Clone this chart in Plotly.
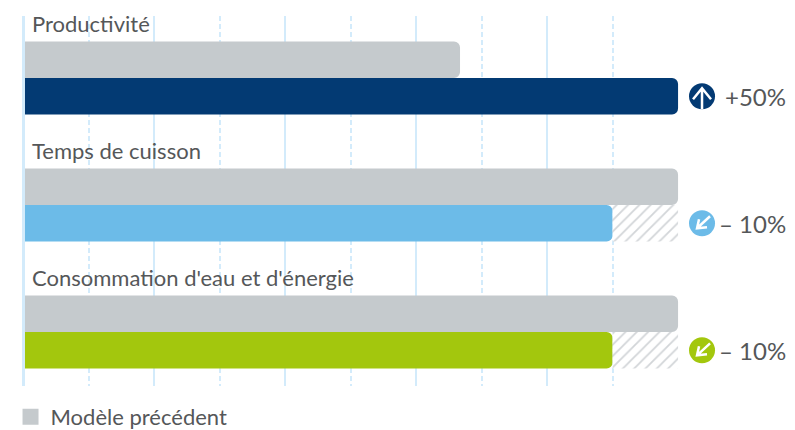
import plotly.graph_objects as go

categories = ["Productivité", "Temps de cuisson", "Consommation d'eau et d'énergie"]
previous_model = [66.7, 100, 100]
current_model = [100, 90, 90]
savings = [None, 10, 10]
change_labels = ["+50%", "– 10%", "– 10%"]
series_colors = ["#033a73", "#6cbbe8", "#a3c70d"]
legend_name = "Modèle précédent"

FONT = "Lato"
TEXT = "#555759"
GRAY = "#c5cacd"
GRID = "#d3ebfb"
pos = list(range(len(categories)))
BAR = 0.288
ICON_X = 103.66
AXIS_MIN = 0.26
AXIS_MAX = 117.86
lower = [p + BAR / 2 for p in pos]
NO_LINE = dict(width=0)

fig = go.Figure()
# hatched remainder sits on its own overlaid axis so that the coloured bars keep their rounded ends
fig.add_bar(x=savings, y=pos, base=current_model, orientation="h", width=BAR, offset=0, xaxis="x2",
            marker=dict(color="white", cornerradius=0, line=NO_LINE,
                        pattern=dict(shape="/", fgcolor="#d2d5d8", bgcolor="white", size=8, solidity=0.22)),
            showlegend=False)
fig.add_bar(x=previous_model, y=pos, orientation="h", width=BAR, offset=-BAR,
            marker=dict(color=GRAY, line=NO_LINE, cornerradius=6), showlegend=False)
fig.add_bar(x=current_model, y=pos, orientation="h", width=BAR, offset=0,
            marker=dict(color=series_colors, line=NO_LINE, cornerradius=6), showlegend=False)
fig.add_scatter(x=[ICON_X] * 3, y=lower, mode="markers", cliponaxis=False, showlegend=False,
                marker=dict(size=26, color=series_colors, symbol="circle", line=NO_LINE))
fig.add_scatter(x=[None], y=[None], mode="markers", name=legend_name,
                marker=dict(size=16, color=GRAY, symbol="square", line=NO_LINE))

annotations = []
for i, c in enumerate(categories):
    annotations.append(dict(x=AXIS_MIN, y=i - BAR, xref="x", yref="y", text=c, showarrow=False,
                            xanchor="left", yanchor="bottom", xshift=5, yshift=2,
                            font=dict(family=FONT, size=22, color=TEXT)))
    annotations.append(dict(x=116.8, y=lower[i], xref="x", yref="y", text=change_labels[i], showarrow=False,
                            xanchor="right", yanchor="middle",
                            font=dict(family=FONT, size=24, color=TEXT)))

shapes = []
up = "M-9,-3 L0,8 L9,-3 M0,8 L0,-13"
down = "M-3,4 L-5,-5 L5,-4 M-5,-5 L8,7"
for i in pos:
    shapes.append(dict(type="path", path=up if i == 0 else down, layer="above",
                       xsizemode="pixel", ysizemode="pixel", xanchor=ICON_X, yanchor=lower[i],
                       xref="x", yref="y", line=dict(color="white", width=2.5)))

# the page adds an 8 px body margin on the top and left of the figure
fig.update_layout(
    template="none",
    width=787, height=430, margin=dict(l=16.7, r=0, t=8, b=52, autoexpand=False),
    paper_bgcolor="white", plot_bgcolor="white", barmode="overlay",
    font=dict(family=FONT, color=TEXT), annotations=annotations, shapes=shapes,
    legend=dict(x=-0.0188, y=-0.027, xanchor="left", yanchor="top", orientation="h",
                font=dict(family=FONT, size=22, color=TEXT), bgcolor="rgba(0,0,0,0)"),
    xaxis=dict(range=[AXIS_MIN, AXIS_MAX], tickvals=[20, 40, 60, 80], showticklabels=False, ticks="",
               showgrid=True, gridcolor=GRID, gridwidth=2, zeroline=False, showline=False,
               minor=dict(tickvals=[10, 30, 50, 70, 90], ticks="", showgrid=True, gridcolor=GRID,
                          griddash="5px,3px", gridwidth=1.5)),
    xaxis2=dict(range=[AXIS_MIN, AXIS_MAX], overlaying="x", visible=False),
    yaxis=dict(range=[2.425, -0.488], showticklabels=False, ticks="", showgrid=False, zeroline=False,
               showline=True, linecolor=GRID, linewidth=3),
)
fig.write_html("out.html")
